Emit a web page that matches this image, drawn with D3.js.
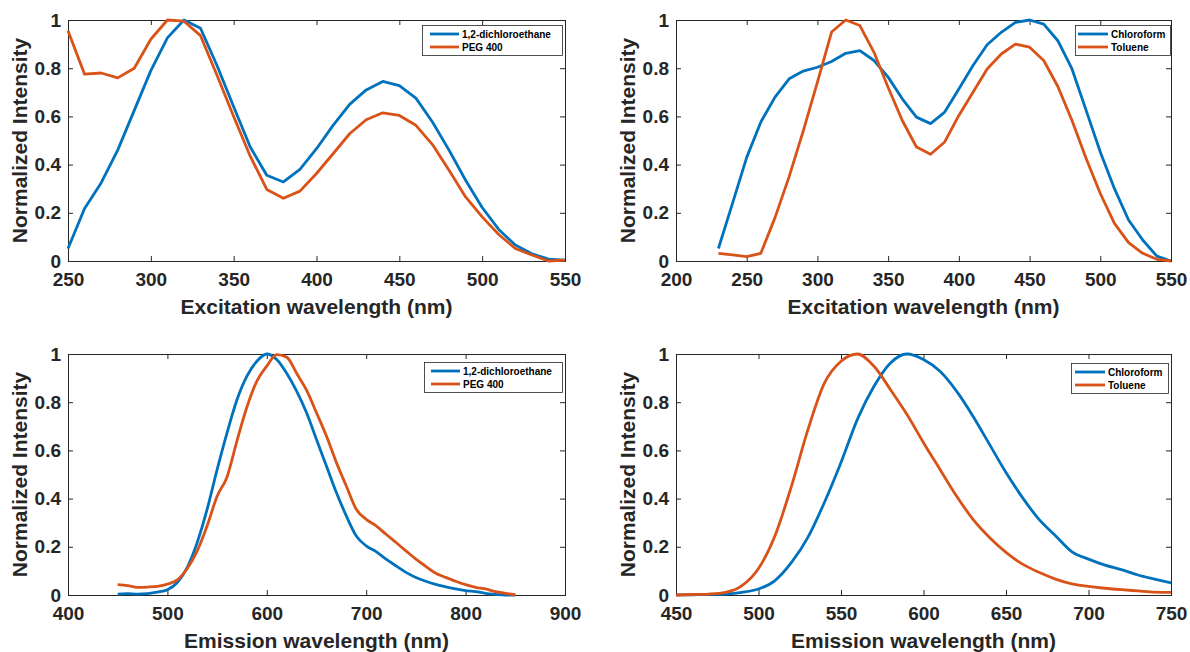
<!DOCTYPE html>
<html>
<head>
<meta charset="utf-8">
<script src="https://cdn.jsdelivr.net/npm/d3@7"></script>
<style>
  html, body { margin: 0; padding: 0; background: #fff; }
  svg { display: block; font-family: "Liberation Sans", Arial, Helvetica, sans-serif; }
  .tick text { font-size: 19px; font-weight: bold; fill: #262626; }
  .tick line { stroke: #262626; }
  .axis-title { font-size: 21px; font-weight: bold; fill: #262626; }
  .legend-text { font-size: 10px; font-weight: bold; fill: #000; }
</style>
</head>
<body>
<div id="chart"></div>
<script>
// ---- data ----
const exWavesDce = [250, 260, 270, 280, 290, 300, 310, 320, 330, 340, 350, 360, 370, 380, 390, 400,
  410, 420, 430, 440, 450, 460, 470, 480, 490, 500, 510, 520, 530, 540, 550];
const exDce = [0.052, 0.218, 0.324, 0.46, 0.625, 0.79, 0.926, 1.0, 0.966, 0.81, 0.64, 0.473, 0.356, 0.328, 0.38, 0.466,
  0.563, 0.65, 0.71, 0.745, 0.728, 0.676, 0.577, 0.46, 0.335, 0.222, 0.131, 0.066, 0.03, 0.008, 0.004];
const exPeg = [0.955, 0.775, 0.78, 0.76, 0.80, 0.92, 1.0, 0.995, 0.935, 0.77, 0.60, 0.435, 0.297, 0.26, 0.29, 0.363,
  0.445, 0.528, 0.586, 0.615, 0.604, 0.563, 0.483, 0.377, 0.266, 0.183, 0.11, 0.052, 0.025, 0.0, 0.004];

const exWavesChl = [230, 240, 250, 260, 270, 280, 290, 300, 310, 320, 330, 340, 350, 360, 370, 380, 390,
  400, 410, 420, 430, 440, 450, 460, 470, 480, 490, 500, 510, 520, 530, 540, 550];
const exChl = [0.052, 0.24, 0.43, 0.577, 0.68, 0.756, 0.788, 0.804, 0.828, 0.862, 0.873, 0.832, 0.763, 0.673, 0.597, 0.57, 0.618,
  0.714, 0.811, 0.897, 0.949, 0.99, 1.0, 0.983, 0.914, 0.797, 0.625, 0.452, 0.3, 0.17, 0.087, 0.02, 0.0];
const exTol = [0.032, 0.025, 0.018, 0.032, 0.18, 0.35, 0.54, 0.742, 0.95, 1.0, 0.977, 0.866, 0.72, 0.583, 0.473, 0.443, 0.494,
  0.604, 0.70, 0.797, 0.859, 0.9, 0.887, 0.832, 0.724, 0.583, 0.425, 0.28, 0.156, 0.076, 0.032, 0.007, 0.0];

const emWavesDce = [450, 460, 470, 480, 490, 500, 510, 520, 530, 540, 550, 560, 570, 580, 590, 600, 610, 620, 630, 640,
  650, 660, 670, 680, 690, 700, 710, 720, 730, 740, 750, 760, 770, 780, 790, 800, 810, 820, 830, 840, 850];
const emDce = [0.004, 0.006, 0.004, 0.006, 0.012, 0.022, 0.052, 0.115, 0.218, 0.356, 0.52, 0.673, 0.81, 0.908, 0.97, 1.0, 0.977, 0.92, 0.846, 0.756,
  0.645, 0.535, 0.425, 0.328, 0.245, 0.204, 0.18, 0.149, 0.121, 0.094, 0.073, 0.057, 0.044, 0.034, 0.025, 0.018, 0.014, 0.007, 0.003, 0.0, 0.0];
const emPeg = [0.043, 0.039, 0.032, 0.033, 0.036, 0.045, 0.063, 0.11, 0.183, 0.287, 0.41, 0.49, 0.64, 0.78, 0.887, 0.95, 0.997, 0.987, 0.92, 0.85,
  0.756, 0.66, 0.55, 0.452, 0.356, 0.314, 0.287, 0.252, 0.218, 0.183, 0.149, 0.119, 0.09, 0.073, 0.057, 0.043, 0.032, 0.025, 0.014, 0.007, 0.001];

const emWavesChl = [450, 460, 470, 480, 490, 500, 510, 520, 530, 540, 550, 560, 570, 580, 590, 600,
  610, 620, 630, 640, 650, 660, 670, 680, 690, 700, 710, 720, 730, 740, 750];
const emChl = [0.0, 0.001, 0.002, 0.004, 0.011, 0.025, 0.06, 0.135, 0.24, 0.385, 0.55, 0.73, 0.866, 0.963, 1.0, 0.977,
  0.928, 0.846, 0.742, 0.625, 0.508, 0.404, 0.314, 0.246, 0.179, 0.149, 0.124, 0.105, 0.083, 0.066, 0.05];
const emTol = [0.0, 0.002, 0.004, 0.011, 0.039, 0.11, 0.246, 0.452, 0.687, 0.88, 0.97, 1.0, 0.949, 0.852, 0.749, 0.632,
  0.521, 0.411, 0.314, 0.239, 0.177, 0.128, 0.094, 0.066, 0.046, 0.036, 0.028, 0.022, 0.017, 0.012, 0.011];

const namesA = ["1,2-dichloroethane", "PEG 400"];
const namesB = ["Chloroform", "Toluene"];

const xTicksExA = [250, 300, 350, 400, 450, 500, 550];
const xTicksExB = [200, 250, 300, 350, 400, 450, 500, 550];
const xTicksEmA = [400, 500, 600, 700, 800, 900];
const xTicksEmB = [450, 500, 550, 600, 650, 700, 750];
const yTicks = [0, 0.2, 0.4, 0.6, 0.8, 1];

const colors = ["#0072BD", "#D95319"];
const ink = "#262626";

// ---- layout ----
const W = 1190, H = 652;
const panels = [
  { left: 68, right: 565, top: 20, bottom: 261, domain: [250, 550], ticks: xTicksExA,
    waves: exWavesDce, series: [exDce, exPeg], names: namesA, xlabel: "Excitation wavelength (nm)",
    curve: d3.curveLinear, legend: { x: 422, y: 25, w: 140, h: 30, pad: 8, len: 29 } },
  { left: 676, right: 1171, top: 20, bottom: 261, domain: [200, 550], ticks: xTicksExB,
    waves: exWavesChl, series: [exChl, exTol], names: namesB, xlabel: "Excitation wavelength (nm)",
    curve: d3.curveLinear, legend: { x: 1075, y: 25, w: 95, h: 30, pad: 3, len: 30 } },
  { left: 68, right: 565, top: 354, bottom: 595, domain: [400, 900], ticks: xTicksEmA,
    waves: emWavesDce, series: [emDce, emPeg], names: namesA, xlabel: "Emission wavelength (nm)",
    curve: d3.curveMonotoneX, legend: { x: 424, y: 362, w: 138, h: 30, pad: 7, len: 29 } },
  { left: 676, right: 1171, top: 354, bottom: 595, domain: [450, 750], ticks: xTicksEmB,
    waves: emWavesChl, series: [emChl, emTol], names: namesB, xlabel: "Emission wavelength (nm)",
    curve: d3.curveMonotoneX, legend: { x: 1071, y: 363, w: 97, h: 30, pad: 4, len: 30 } }
];

const svg = d3.select("#chart").append("svg")
  .attr("width", W)
  .attr("height", H);

const fmt = d3.format("~g");

panels.forEach(function(p) {
  const x = d3.scaleLinear().domain(p.domain).range([p.left, p.right]);
  const y = d3.scaleLinear().domain([0, 1]).range([p.bottom, p.top]);
  const g = svg.append("g");

  // ticks inward on all four sides (box on)
  g.append("g")
    .attr("transform", `translate(0,${p.bottom})`)
    .call(d3.axisBottom(x).tickValues(p.ticks).tickSize(-5).tickSizeOuter(0).tickPadding(12).tickFormat(fmt))
    .call(a => a.select(".domain").remove());
  g.append("g")
    .attr("transform", `translate(0,${p.top})`)
    .call(d3.axisTop(x).tickValues(p.ticks).tickSize(-5).tickSizeOuter(0).tickFormat(""))
    .call(a => a.select(".domain").remove());
  g.append("g")
    .attr("transform", `translate(${p.left},0)`)
    .call(d3.axisLeft(y).tickValues(yTicks).tickSize(-5).tickSizeOuter(0).tickPadding(7).tickFormat(fmt))
    .call(a => a.select(".domain").remove());
  g.append("g")
    .attr("transform", `translate(${p.right},0)`)
    .call(d3.axisRight(y).tickValues(yTicks).tickSize(-5).tickSizeOuter(0).tickFormat(""))
    .call(a => a.select(".domain").remove());

  g.selectAll(".tick text").attr("fill", ink);

  g.append("rect")
    .attr("x", p.left + 0.5)
    .attr("y", p.top + 0.5)
    .attr("width", p.right - p.left)
    .attr("height", p.bottom - p.top)
    .attr("fill", "none")
    .attr("stroke", ink)
    .attr("stroke-width", 1);

  const line = d3.line()
    .x((d, i) => x(p.waves[i]))
    .y(d => y(d))
    .curve(p.curve);

  p.series.forEach(function(s, k) {
    g.append("path")
      .datum(s)
      .attr("d", line)
      .attr("fill", "none")
      .attr("stroke", colors[k])
      .attr("stroke-width", 2.8)
      .attr("stroke-linejoin", "round");
  });

  // axis titles
  g.append("text")
    .attr("class", "axis-title")
    .attr("x", (p.left + p.right) / 2)
    .attr("y", p.bottom + 53)
    .attr("text-anchor", "middle")
    .text(p.xlabel);

  g.append("text")
    .attr("class", "axis-title")
    .attr("transform", `translate(${p.left - 41},${(p.top + p.bottom) / 2}) rotate(-90)`)
    .attr("text-anchor", "middle")
    .text("Normalized Intensity");

  // legend
  const L = p.legend;
  const lg = g.append("g");
  lg.append("rect")
    .attr("x", L.x + 0.5)
    .attr("y", L.y + 0.5)
    .attr("width", L.w)
    .attr("height", L.h)
    .attr("fill", "#fff")
    .attr("stroke", ink)
    .attr("stroke-width", 0.8);
  p.names.forEach(function(name, k) {
    const ry = L.y + 9 + k * 13;
    lg.append("line")
      .attr("x1", L.x + L.pad)
      .attr("x2", L.x + L.pad + L.len)
      .attr("y1", ry)
      .attr("y2", ry)
      .attr("stroke", colors[k])
      .attr("stroke-width", 2.8);
    lg.append("text")
      .attr("class", "legend-text")
      .attr("x", L.x + L.pad + L.len + 3)
      .attr("y", ry)
      .attr("dy", "0.35em")
      .text(name);
  });
});
</script>
</body>
</html>
